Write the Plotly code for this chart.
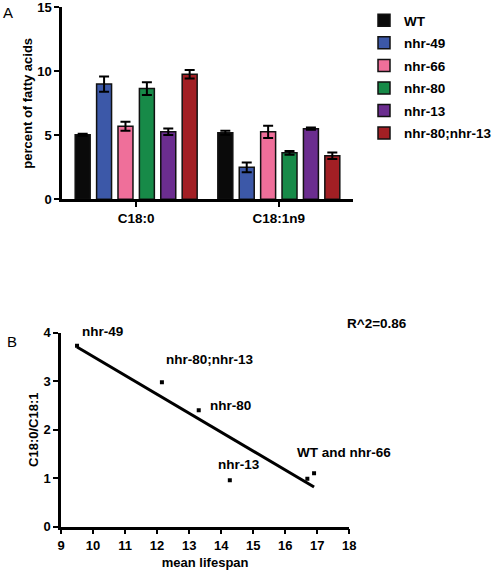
import numpy as np
import plotly.graph_objects as go

# ---- Panel A data ----
categories = ["C18:0", "C18:1n9"]
strains = ["WT", "nhr-49", "nhr-66", "nhr-80", "nhr-13", "nhr-80;nhr-13"]
values = {
    "WT": [5.05, 5.2],
    "nhr-49": [9.0, 2.5],
    "nhr-66": [5.7, 5.27],
    "nhr-80": [8.65, 3.63],
    "nhr-13": [5.28, 5.52],
    "nhr-80;nhr-13": [9.77, 3.4],
}
errors = {
    "WT": [0.08, 0.15],
    "nhr-49": [0.6, 0.38],
    "nhr-66": [0.35, 0.48],
    "nhr-80": [0.5, 0.15],
    "nhr-13": [0.25, 0.08],
    "nhr-80;nhr-13": [0.33, 0.25],
}
colors = ["#0a0a0a", "#3c58a8", "#ef6f9a", "#178a48", "#6b2d8f", "#a21f24"]

# ---- Panel B data ----
lifespan = [9.5, 12.15, 13.3, 14.27, 16.69, 16.9]
ratio = [3.73, 2.98, 2.4, 0.96, 0.99, 1.1]
point_labels = ["nhr-80;nhr-13", "nhr-80", "nhr-13", "WT and nhr-66"]
label_pos = [(12.2, 3.44), (13.6, 2.5), (13.85, 1.29), (16.3, 1.52)]

FONT = "Liberation Sans, Arial, sans-serif"

W, H = 496, 571


def px(x):
    return x / W


def py(y):
    return 1 - y / H


fig = go.Figure()
for i, s in enumerate(strains):
    fig.add_trace(go.Bar(
        x=categories, y=values[s], name=s,
        marker=dict(color=colors[i], line=dict(color="#111111", width=1.5)),
        error_y=dict(type="data", array=errors[s], color="#000000", thickness=2, width=5),
        xaxis="x", yaxis="y", legendgroup=s,
    ))

fig.add_trace(go.Scatter(
    x=lifespan, y=ratio, mode="markers",
    marker=dict(symbol="square", size=4, color="#000000"),
    xaxis="x2", yaxis="y2", showlegend=False,
))

slope, intercept = np.polyfit(lifespan, ratio, 1)
xfit = np.array([min(lifespan), max(lifespan)])
fig.add_trace(go.Scatter(
    x=xfit, y=slope * xfit + intercept, mode="lines",
    line=dict(color="#000000", width=3),
    xaxis="x2", yaxis="y2", showlegend=False,
))
r2 = np.corrcoef(lifespan, ratio)[0, 1] ** 2

bold = dict(family=FONT, size=13.5, color="#000000", weight="bold")
titlebold = dict(family=FONT, size=13, color="#000000", weight="bold")
tickbold = dict(family=FONT, size=13, color="#000000", weight="bold")

annotations = []
for lab, (ax, ay) in zip(point_labels, label_pos):
    annotations.append(dict(x=ax, y=ay, xref="x2", yref="y2", text=lab, showarrow=False,
                            xanchor="left", yanchor="middle", font=bold))
annotations.append(dict(x=px(80), y=py(331), xref="paper", yref="paper", text="nhr-49",
                        showarrow=False, xanchor="left", yanchor="middle", font=bold))
annotations.append(dict(x=px(345), y=py(323), xref="paper", yref="paper",
                        text="R^2=%.2f" % r2,
                        showarrow=False, xanchor="left", yanchor="middle", font=bold))
annotations.append(dict(x=px(1), y=py(13), xref="paper", yref="paper", text="A",
                        showarrow=False, xanchor="left", yanchor="middle",
                        font=dict(family=FONT, size=15, color="#000000")))
annotations.append(dict(x=px(5), y=py(341), xref="paper", yref="paper", text="B",
                        showarrow=False, xanchor="left", yanchor="middle",
                        font=dict(family=FONT, size=15, color="#000000")))

axis_common = dict(showline=True, linecolor="#000000", linewidth=2.5, ticks="outside",
                   tickcolor="#000000", tickwidth=2, ticklen=5, showgrid=False,
                   zeroline=False, tickfont=tickbold, automargin=False,
                   ticklabeloverflow="allow")

fig.update_layout(
    width=W, height=H,
    margin=dict(l=0, r=0, t=0, b=0, autoexpand=False),
    paper_bgcolor="white", plot_bgcolor="white",
    barmode="group", bargap=0.1, bargroupgap=0.3,
    font=dict(family=FONT, color="#000000"),
    xaxis=dict(domain=[px(62), px(353)], range=[-0.52, 1.52], anchor="y",
               **{**axis_common, "tickfont": bold}),
    yaxis=dict(domain=[py(199.3), py(7.3)], range=[0, 15], anchor="x",
               tickvals=[0, 5, 10, 15],
               title=dict(text="percent of fatty acids", font=titlebold, standoff=2),
               **axis_common),
    xaxis2=dict(domain=[px(61), px(349.3)], range=[9, 18], anchor="y2",
                tickvals=list(range(9, 19)),
                title=dict(text="mean lifespan", font=titlebold, standoff=6),
                **axis_common),
    yaxis2=dict(domain=[py(526.7), py(332.7)], range=[0, 4], anchor="x2",
                tickvals=[0, 1, 2, 3, 4],
                title=dict(text="C18:0/C18:1", font=titlebold, standoff=2),
                **axis_common),
    legend=dict(x=px(364), y=py(5), xanchor="left", yanchor="top",
                font=bold, tracegroupgap=2, bgcolor="rgba(0,0,0,0)"),
    annotations=annotations,
)

# remove the browser's default 8px body margin so the figure sits at the page corner
fig.write_html("out.html", config={"displayModeBar": False},
               post_script="document.body.style.margin='0';document.body.style.padding='0';")
